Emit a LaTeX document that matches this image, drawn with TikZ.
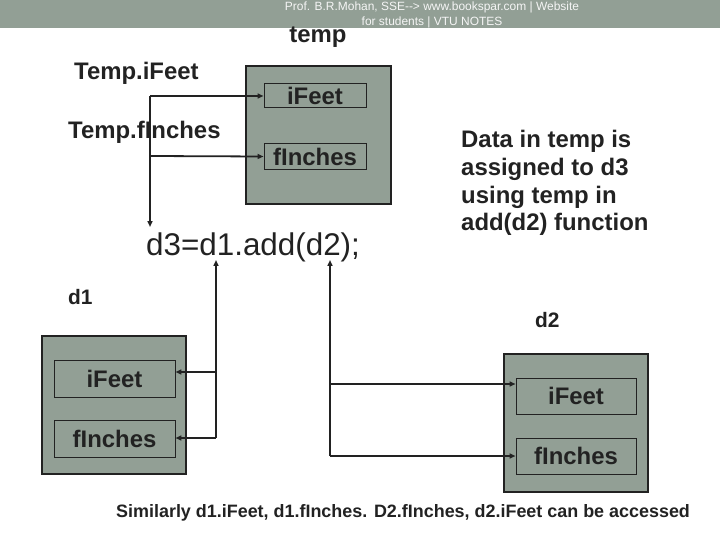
\documentclass[tikz,border=0pt]{standalone}
\usepackage{fontspec}
\setmainfont{Liberation Sans}
\usetikzlibrary{arrows.meta}
\definecolor{boxgray}{RGB}{146,159,149}
\definecolor{ink}{RGB}{34,34,34}
\definecolor{hdr}{RGB}{245,245,245}
\tikzset{
  field/.style={draw=ink, line width=1pt, fill=boxgray, text=ink, inner sep=0pt,
    font=\fontsize{24}{28}\selectfont\bfseries},
  objbox/.style={draw=ink, line width=1.2pt, fill=boxgray, inner sep=0pt},
  lbl/.style={text=ink, inner sep=0pt, font=\fontsize{24}{28}\selectfont\bfseries},
  conn/.style={draw=ink, line width=1.8pt, -{Triangle[length=6pt,width=5pt]}},
}
\begin{document}
\begin{tikzpicture}[x=1bp,y=-1bp]
\useasboundingbox (0,0) rectangle (720,540);
% header band
\fill[boxgray] (0,0) rectangle (720,28);
\node[text=hdr, inner sep=0pt, align=center, font=\fontsize{12}{15}\selectfont] (hdrtxt) at (432,15)
  {Prof. B.R.Mohan, SSE-{}-{}> www.bookspar.com | Website\\for students | VTU NOTES};
% temp object
\node[lbl] (templbl) at (318,37) {temp};
\node[objbox, minimum width=145bp, minimum height=138bp] (tbox) at (318.5,135) {};
\node[field, minimum width=102bp, minimum height=24bp] (tI) at (315,96) {iFeet};
\node[field, minimum width=102bp, minimum height=25bp] (tF) at (315,156.5) {fInches};
\node[lbl, anchor=west] (tIlbl) at (74,73) {Temp.iFeet};
\node[lbl, anchor=west] (tFlbl) at (68,132) {Temp.fInches};
% statement
\node[text=ink, inner sep=0pt, anchor=base west, font=\fontsize{31.5}{36}\selectfont] (d3) at (146,256) {d3=d1.add(d2);};
% explanation (anchor = baseline of last line)
\node[lbl, anchor=base west, align=left, font=\fontsize{24}{28}\selectfont\bfseries] (expl) at (461,231)
  {Data in temp is\\assigned to d3\\using temp in\\add(d2) function};
% d1 object
\node[lbl, anchor=west, font=\fontsize{21}{24}\selectfont\bfseries] (d1lbl) at (68,297) {d1};
\node[objbox, minimum width=144bp, minimum height=138bp] (d1box) at (114,405) {};
\node[field, minimum width=121bp, minimum height=37bp] (d1I) at (114.5,378.5) {iFeet};
\node[field, minimum width=121bp, minimum height=37bp] (d1F) at (114.5,438.5) {fInches};
% d2 object
\node[lbl, anchor=west, font=\fontsize{21}{24}\selectfont\bfseries] (d2lbl) at (535,320) {d2};
\node[objbox, minimum width=144bp, minimum height=138bp] (d2box) at (576,423) {};
\node[field, minimum width=120bp, minimum height=36bp] (d2I) at (576,396) {iFeet};
\node[field, minimum width=120bp, minimum height=36bp] (d2F) at (576,456) {fInches};
% footer
\node[text=ink, inner sep=0pt, anchor=west, font=\fontsize{18}{22}\selectfont\bfseries] (foot) at (116,513)
  {Similarly d1.iFeet, d1.fInches. D2.fInches, d2.iFeet can be accessed};
% connector coordinates
\coordinate (ta) at (150,96);
\coordinate (tb) at (150,156);
\coordinate (tc) at (150,227);
\coordinate (ua) at (216,260);
\coordinate (ub) at (216,372);
\coordinate (uc) at (216,438);
\coordinate (va) at (330,260);
\coordinate (vb) at (330,384);
\coordinate (vc) at (330,456);
% temp connectors
\draw[conn] (ta) -- (tc);
\draw[conn] (ta) -- (tI.west);
\draw[conn] (tb) -- (tF.west);
% d1 connectors
\draw[conn] (uc) -- (ua);
\draw[conn] (ub) -- (d1I.east |- ub);
\draw[conn] (uc) -- (d1F.east |- uc);
% d2 connectors
\draw[conn] (vc) -- (va);
\draw[conn] (vb) -- (d2I.west |- vb);
\draw[conn] (vc) -- (d2F.west |- vc);
\end{tikzpicture}
\end{document}
